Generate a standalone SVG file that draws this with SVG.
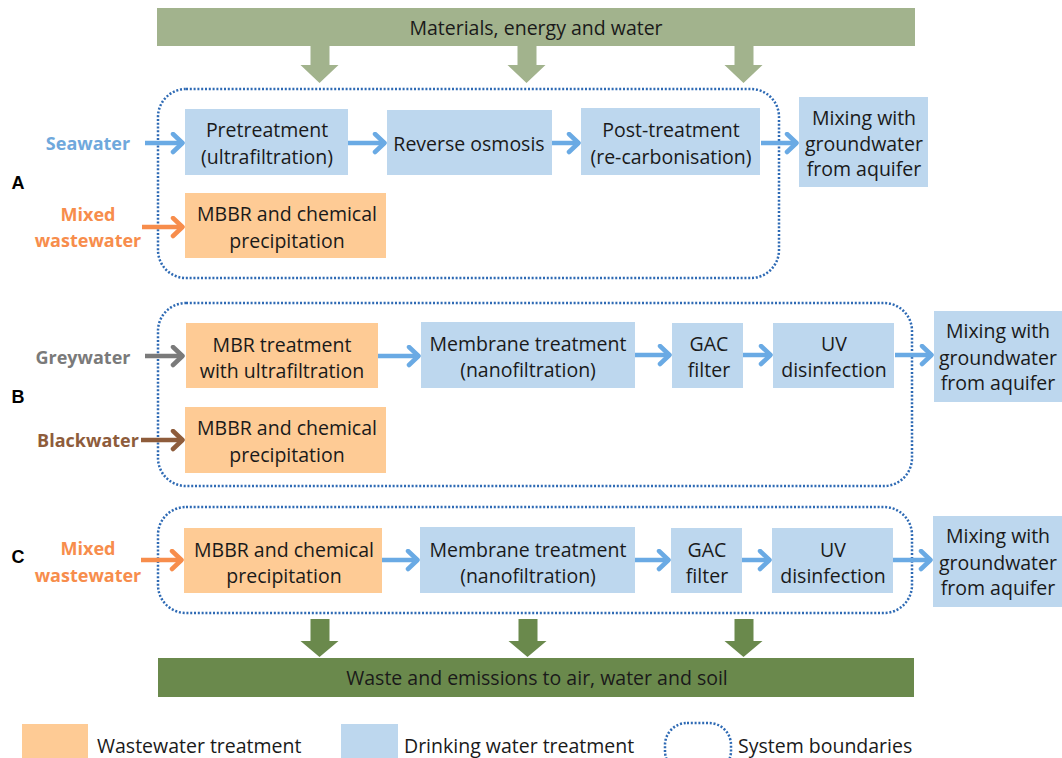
<svg xmlns="http://www.w3.org/2000/svg" width="1062" height="758" viewBox="0 0 1062 758">
<defs>
<style>
text{font-family:"Open Sans","Noto Sans","Liberation Sans",sans-serif;font-size:19.5px;fill:#1a1a1a;dominant-baseline:central;text-anchor:middle}
.blue{fill:#bdd7ee}
.orange{fill:#fecb95}
.bnd{fill:none;stroke:#2e6ab4;stroke-width:2.5;stroke-dasharray:2 1.8}
.src{font-weight:bold;font-size:18px}
.lbl{font-family:"Liberation Sans",Arial,sans-serif;font-weight:bold;font-size:18px;fill:#000}
.ln{fill:none;stroke-width:4.5}
.lb{stroke:#6aaae4}.lo{stroke:#f78d4c}.lg{stroke:#7a7a7a}.lr{stroke:#8e5c3b}
</style>
<marker id="mb" markerUnits="userSpaceOnUse" markerWidth="20" markerHeight="24" refX="13" refY="11" orient="auto"><path d="M3,2 L12.5,11 L3,20" fill="none" stroke="#6aaae4" stroke-width="4.5" stroke-linecap="round" stroke-linejoin="round"/></marker>
<marker id="mo" markerUnits="userSpaceOnUse" markerWidth="20" markerHeight="24" refX="13" refY="11" orient="auto"><path d="M3,2 L12.5,11 L3,20" fill="none" stroke="#f78d4c" stroke-width="4.5" stroke-linecap="round" stroke-linejoin="round"/></marker>
<marker id="mg" markerUnits="userSpaceOnUse" markerWidth="20" markerHeight="24" refX="13" refY="11" orient="auto"><path d="M3,2 L12.5,11 L3,20" fill="none" stroke="#7a7a7a" stroke-width="4.5" stroke-linecap="round" stroke-linejoin="round"/></marker>
<marker id="mr" markerUnits="userSpaceOnUse" markerWidth="20" markerHeight="24" refX="13" refY="11" orient="auto"><path d="M3,2 L12.5,11 L3,20" fill="none" stroke="#8e5c3b" stroke-width="4.5" stroke-linecap="round" stroke-linejoin="round"/></marker>
</defs>
<rect width="1062" height="758" fill="#fff"/>

<g id="inputs">
<rect x="157" y="8" width="758" height="38" fill="#a2b38d"/>
<text x="536" y="27">Materials, energy and water</text>
<path d="M310.5,46 h19 v19 h9 l-19,18 l-19,-18 h10 z" fill="#a2b38d"/>
<path d="M517.5,46 h19 v19 h9 l-19,18 l-19,-18 h10 z" fill="#a2b38d"/>
<path d="M734.5,46 h19 v19 h9 l-19,18 l-19,-18 h10 z" fill="#a2b38d"/>
</g>

<g id="outputs">
<path d="M310.5,619 h19 v22 h9 l-19,16 l-19,-16 h10 z" fill="#6a894c"/>
<path d="M518.5,619 h19 v22 h9 l-19,16 l-19,-16 h10 z" fill="#6a894c"/>
<path d="M734.5,619 h19 v22 h9 l-19,16 l-19,-16 h10 z" fill="#6a894c"/>
<rect x="158" y="658" width="756" height="39" fill="#6a894c"/>
<text x="537" y="677">Waste and emissions to air, water and soil</text>
</g>

<g id="boundaries">
<rect class="bnd" x="158" y="89" width="621" height="189" rx="28"/>
<rect class="bnd" x="158" y="303" width="754" height="183" rx="28"/>
<rect class="bnd" x="158" y="507" width="754" height="106" rx="28"/>
</g>

<g id="labels">
<text class="lbl" x="18" y="183">A</text>
<text class="lbl" x="18" y="397">B</text>
<text class="lbl" x="18" y="557">C</text>
<text class="src" x="88" y="143" style="fill:#6fa8dc">Seawater</text>
<text class="src" x="88" y="214" style="fill:#f78d4c">Mixed</text>
<text class="src" x="88" y="240" style="fill:#f78d4c">wastewater</text>
<text class="src" x="83" y="357" style="fill:#7a7a7a">Greywater</text>
<text class="src" x="88" y="440" style="fill:#8e5c3b">Blackwater</text>
<text class="src" x="88" y="548" style="fill:#f78d4c">Mixed</text>
<text class="src" x="88" y="575" style="fill:#f78d4c">wastewater</text>
</g>

<g id="A-pretreatment"><rect class="blue" x="185" y="109" width="163" height="66"/><text x="267" y="129">Pretreatment</text><text x="267" y="156">(ultrafiltration)</text></g>
<g id="A-ro"><rect class="blue" x="387" y="110" width="165" height="65"/><text x="469" y="143">Reverse osmosis</text></g>
<g id="A-post"><rect class="blue" x="581" y="108" width="179" height="67"/><text x="671" y="129">Post-treatment</text><text x="671" y="156">(re-carbonisation)</text></g>
<g id="A-mixing"><rect class="blue" x="799" y="97" width="129" height="90"/><text x="864" y="117">Mixing with</text><text x="864" y="143">groundwater</text><text x="864" y="168">from aquifer</text></g>
<g id="A-mbbr"><rect class="orange" x="185" y="193" width="201" height="65"/><text x="287" y="213">MBBR and chemical</text><text x="287" y="240">precipitation</text></g>

<g id="B-mbr"><rect class="orange" x="186" y="323" width="192" height="65"/><text x="282" y="344">MBR treatment</text><text x="282" y="370">with ultrafiltration</text></g>
<g id="B-membrane"><rect class="blue" x="421" y="322" width="214" height="66"/><text x="528" y="343">Membrane treatment</text><text x="528" y="369">(nanofiltration)</text></g>
<g id="B-gac"><rect class="blue" x="672" y="323" width="71" height="65"/><text x="709" y="343">GAC</text><text x="709" y="369">filter</text></g>
<g id="B-uv"><rect class="blue" x="773" y="323" width="121" height="65"/><text x="834" y="343">UV</text><text x="834" y="369">disinfection</text></g>
<g id="B-mixing"><rect class="blue" x="934" y="311" width="128" height="91"/><text x="998" y="330">Mixing with</text><text x="998" y="357">groundwater</text><text x="998" y="382">from aquifer</text></g>
<g id="B-mbbr"><rect class="orange" x="185" y="407" width="201" height="66"/><text x="287" y="427">MBBR and chemical</text><text x="287" y="454">precipitation</text></g>

<g id="C-mbbr"><rect class="orange" x="184" y="528" width="198" height="65"/><text x="284" y="549">MBBR and chemical</text><text x="284" y="575">precipitation</text></g>
<g id="C-membrane"><rect class="blue" x="420" y="527" width="215" height="66"/><text x="528" y="549">Membrane treatment</text><text x="528" y="575">(nanofiltration)</text></g>
<g id="C-gac"><rect class="blue" x="671" y="528" width="71" height="65"/><text x="707" y="549">GAC</text><text x="707" y="575">filter</text></g>
<g id="C-uv"><rect class="blue" x="772" y="528" width="121" height="65"/><text x="833" y="549">UV</text><text x="833" y="575">disinfection</text></g>
<g id="C-mixing"><rect class="blue" x="933" y="516" width="129" height="91"/><text x="998" y="535">Mixing with</text><text x="998" y="562">groundwater</text><text x="998" y="587">from aquifer</text></g>

<g id="connectors">
<line class="ln lb" x1="145" y1="143" x2="183" y2="143" marker-end="url(#mb)"/>
<line class="ln lo" x1="142" y1="227" x2="183" y2="227" marker-end="url(#mo)"/>
<line class="ln lb" x1="348" y1="143" x2="385" y2="143" marker-end="url(#mb)"/>
<line class="ln lb" x1="552" y1="143" x2="579" y2="143" marker-end="url(#mb)"/>
<line class="ln lb" x1="761" y1="143" x2="797" y2="143" marker-end="url(#mb)"/>
<line class="ln lg" x1="145" y1="356" x2="183" y2="356" marker-end="url(#mg)"/>
<line class="ln lr" x1="141" y1="440" x2="183" y2="440" marker-end="url(#mr)"/>
<line class="ln lb" x1="378" y1="356" x2="419" y2="356" marker-end="url(#mb)"/>
<line class="ln lb" x1="635" y1="355" x2="670" y2="355" marker-end="url(#mb)"/>
<line class="ln lb" x1="743" y1="355" x2="771" y2="355" marker-end="url(#mb)"/>
<line class="ln lb" x1="895" y1="355" x2="932" y2="355" marker-end="url(#mb)"/>
<line class="ln lo" x1="141" y1="560" x2="182" y2="560" marker-end="url(#mo)"/>
<line class="ln lb" x1="382" y1="560" x2="418" y2="560" marker-end="url(#mb)"/>
<line class="ln lb" x1="635" y1="560" x2="669" y2="560" marker-end="url(#mb)"/>
<line class="ln lb" x1="742" y1="560" x2="770" y2="560" marker-end="url(#mb)"/>
<line class="ln lb" x1="893" y1="560" x2="931" y2="560" marker-end="url(#mb)"/>
</g>

<g id="legend">
<rect class="orange" x="22" y="724" width="66" height="40"/>
<text x="97" y="745" style="text-anchor:start">Wastewater treatment</text>
<rect class="blue" x="341" y="724" width="57" height="40"/>
<text x="404" y="745" style="text-anchor:start">Drinking water treatment</text>
<rect class="bnd" x="665" y="723" width="66" height="50" rx="22"/>
<text x="738" y="745" style="text-anchor:start">System boundaries</text>
</g>
</svg>
